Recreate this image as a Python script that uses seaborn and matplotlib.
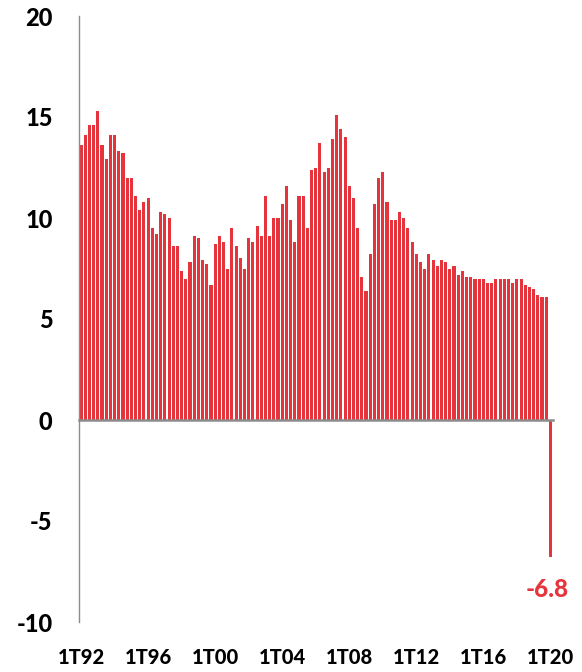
import matplotlib
matplotlib.use("Agg")
import matplotlib.pyplot as plt
import seaborn as sns
import pandas as pd
import numpy as np

# Quarterly year-on-year GDP growth (%), 1T92 .. 1T20
years = list(range(1992, 2021))
growth = [
    13.6, 14.1, 14.6, 14.6,   # 1992
    15.3, 13.6, 12.9, 14.1,   # 1993
    14.1, 13.3, 13.2, 12.0,   # 1994
    12.0, 11.1, 10.4, 10.8,   # 1995
    11.0, 9.5, 9.2, 10.3,     # 1996
    10.2, 10.0, 8.6, 8.6,     # 1997
    7.4, 7.0, 7.8, 9.1,       # 1998
    9.0, 7.9, 7.7, 6.7,       # 1999
    8.7, 9.1, 8.8, 7.5,       # 2000
    9.5, 8.6, 8.0, 7.5,       # 2001
    9.0, 8.8, 9.6, 9.1,       # 2002
    11.1, 9.1, 10.0, 10.0,    # 2003
    10.7, 11.6, 9.9, 8.8,     # 2004
    11.1, 11.1, 9.5, 12.4,    # 2005
    12.5, 13.7, 12.3, 12.5,   # 2006
    13.9, 15.1, 14.4, 14.0,   # 2007
    11.6, 11.0, 9.5, 7.1,     # 2008
    6.4, 8.2, 10.7, 12.0,     # 2009
    12.3, 10.8, 9.9, 9.9,     # 2010
    10.3, 10.0, 9.5, 8.8,     # 2011
    8.2, 7.8, 7.5, 8.2,       # 2012
    7.9, 7.6, 7.9, 7.8,       # 2013
    7.5, 7.6, 7.2, 7.4,       # 2014
    7.1, 7.1, 7.0, 7.0,       # 2015
    7.0, 6.8, 6.8, 7.0,       # 2016
    7.0, 7.0, 7.0, 6.8,       # 2017
    7.0, 7.0, 6.7, 6.6,       # 2018
    6.5, 6.2, 6.1, 6.1,       # 2019
    -6.8,                     # 2020
]
quarters = [f"{q}T{str(y)[2:]}" for y in years for q in range(1, 5)][:len(growth)]
shown_labels = ["1T92", "1T96", "1T00", "1T04", "1T08", "1T12", "1T16", "1T20"]
y_ticks = [-10, -5, 0, 5, 10, 15, 20]

RED = "#E6343C"
GREY = "#8C8C8C"
FAMILY = ["Lato", "DejaVu Sans"]

df = pd.DataFrame({"quarter": pd.Categorical(quarters, categories=quarters, ordered=True),
                   "growth": growth})

sns.set_style("white")
plt.rcParams["font.family"] = FAMILY
plt.rcParams["text.color"] = "black"

fig = plt.figure(figsize=(5.82, 6.72), dpi=100)
ax = fig.add_axes([79 / 582, 1 - 622 / 672, (552.5 - 79) / 582, (622 - 16) / 672])

sns.barplot(data=df, x="quarter", y="growth", color=RED, saturation=1,
            width=0.74, ax=ax, linewidth=0)

ax.set_xlim(-0.5, len(growth) - 0.5)
ax.set_ylim(-10, 20)
ax.set_xlabel("")
ax.set_ylabel("")

# horizontal axis sits on zero, tick marks every 5 quarters at bar boundaries
for side in ("top", "right"):
    ax.spines[side].set_visible(False)
ax.spines["bottom"].set_position(("data", 0))
ax.spines["bottom"].set_color(GREY)
ax.spines["bottom"].set_linewidth(1.8)
ax.spines["left"].set_color(GREY)
ax.spines["left"].set_linewidth(1)
ax.set_xticks(np.arange(-0.5, len(growth), 5))
ax.set_xticklabels([])
ax.tick_params(axis="x", direction="out", length=6, width=1.5, color=GREY)

ax.set_yticks(y_ticks)
ax.set_yticklabels([str(v) for v in y_ticks],
                   fontdict=dict(family=FAMILY, size=17, weight=900), color="black")
ax.tick_params(axis="y", direction="out", length=7, width=1, color=GREY, pad=12)

# quarter labels along the bottom edge
xtrans = ax.get_xaxis_transform()
for lab in shown_labels:
    ax.text(quarters.index(lab), -0.058, lab, transform=xtrans, ha="center",
            va="center", color="black", family=FAMILY, size=14.5, weight=900)

# value label on the latest quarter
last = len(growth) - 1
ax.annotate(f"{growth[last]:.1f}", xy=(last, growth[last]), xytext=(-3, -21),
            textcoords="offset pixels", ha="center", va="top",
            color=RED, family=FAMILY, size=17.5, weight=900)

fig.savefig("out.png", dpi=100)
